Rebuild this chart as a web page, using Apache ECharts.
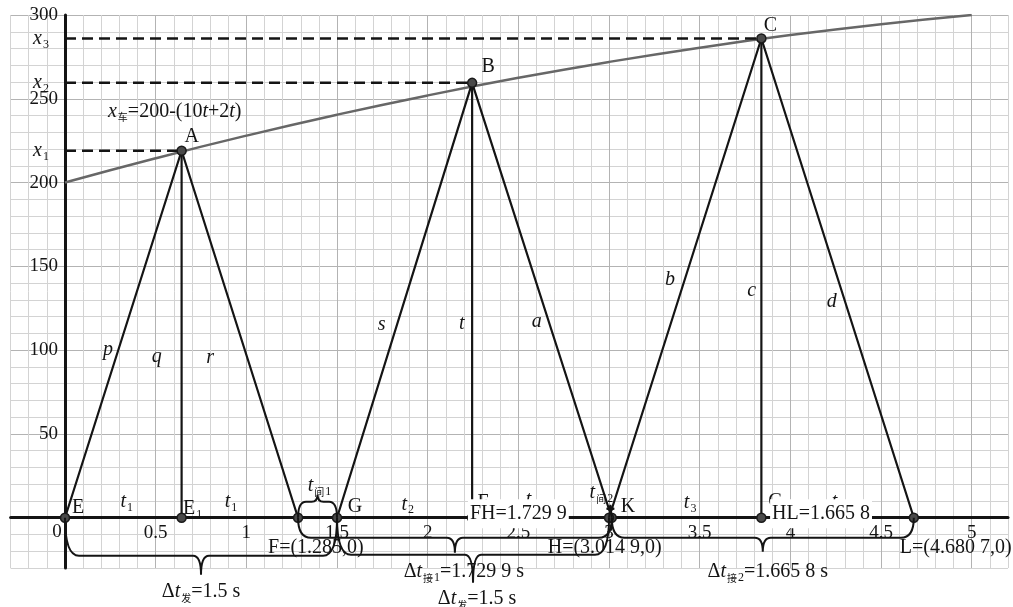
<!DOCTYPE html>
<html>
<head>
<meta charset="utf-8">
<script src="https://cdn.jsdelivr.net/npm/echarts@6/dist/echarts.min.js"></script>
<style>
  html, body { margin: 0; padding: 0; background: #fff; }
  #chart { width: 1013px; height: 607px; }
</style>
</head>
<body>
<div id="chart"></div>
<script>
// Position–time diagram: pulses sent from the origin, reflected by a receding car.

// Car position curve (t in s, x in m)
const curveT = [0, 0.5, 1, 1.5, 2, 2.5, 3, 3.5, 4, 4.5, 5];
const curveX = [200, 214.5, 228, 240.5, 252, 262.5, 272, 280.5, 288, 294.5, 300];

// Pulse send instants
const sendNames = ['E', 'G', 'K'];
const sendTimes = [0, 1.5, 3.0];

// Reflection points on the car curve
const peakNames = ['A', 'B', 'C'];
const peakTimes = [0.643, 2.245, 3.84];
const peakDist = [219, 259.5, 286];

// Feet of the verticals dropped from the reflection points
const footNames = ['E', 'F', 'G'];
const footSubs = ['1', '', ''];

// Echo arrival instants
const returnNames = ['F', 'H', 'L'];
const returnTimes = [1.285, 3.0149, 4.6807];

// Segment names of each pulse triangle
const segNames = [['p', 'q', 'r'], ['s', 't', 'a'], ['b', 'c', 'd']];

// Axis tick labels
const xTicks = [0.5, 1, 1.5, 2, 2.5, 3, 3.5, 4, 4.5, 5];
const yTicks = [50, 100, 150, 200, 250, 300];

// ---------- styling ----------
const FONT = '"Liberation Serif","Times New Roman",serif';
const CJK = '"Noto Sans CJK SC",sans-serif';
const INK = '#141414';
const MINOR = '#d3d3d3';
const MAJOR = '#b3b3b3';

const zr = {
  n: { fontFamily: FONT, fontSize: 20, fill: INK },
  a: { fontFamily: FONT, fontSize: 19, fill: INK },
  i: { fontFamily: FONT, fontSize: 20, fontStyle: 'italic', fill: INK },
  s: { fontFamily: FONT, fontSize: 12, fill: INK, padding: [12, 0, 0, 1] },
  c: { fontFamily: CJK, fontSize: 10, fill: INK, padding: [12, 0, 0, 1] }
};
const N = s => `{n|${s}}`;
const A = s => `{a|${s}}`;
const I = s => `{i|${s}}`;
const S = s => (s ? `{s|${s}}` : '');
const C = s => `{c|${s}}`;

// 1.7299 -> "1.729 9"
function num(v) {
  const s = String(+v.toFixed(4));
  const parts = s.split('.');
  if (parts[1] && parts[1].length > 3) return parts[0] + '.' + parts[1].slice(0, 3) + ' ' + parts[1].slice(3);
  return s;
}

// ---------- label placement (data anchor + pixel nudge) ----------
const segPos = [
  [[0.237, 100], [0.506, 96], [0.80, 95.5]],
  [[1.746, 115], [2.188, 116], [2.601, 117]],
  [[3.336, 142], [3.787, 135.5], [4.228, 129]]
];
const legPos = [[[0.34, 9.5], [0.915, 9.5]], [[1.89, 8], [2.575, 10.5]], [[3.447, 9], [4.263, 9.5]]];
const peakOff = [[10, -14], [16, -16], [9, -13]];
const sendOff = [[13, -10], [18, -11], [19, -11]];
const footOff = [[11, -9], [11, -15], [14, -16]];
const returnOff = [[-30, 30], [-64, 30], [-14, 30]];

const notes = [];
// axis tick labels sit on the zero lines
xTicks.forEach(t => notes.push({ t, y: 0, dy: 15, text: A(String(t)) }));
yTicks.forEach(v => notes.push({ t: 0, y: v, dx: -7, align: 'right', text: A(String(v)) }));
notes.push({ t: 0, y: 0, dx: -8, dy: 14, text: A('0') });
notes.push({ t: 0.237, y: 242.3, text: I('x') + C('车') + N('=200-(10') + I('t') + N('+2') + I('t') + N(')'), align: 'left' });
for (let k = 0; k < 3; k++) {
  segNames[k].forEach((nm, j) => notes.push({ t: segPos[k][j][0], y: segPos[k][j][1], text: I(nm) }));
  legPos[k].forEach(p => notes.push({ t: p[0], y: p[1], text: I('t') + S(String(k + 1)) }));
  notes.push({ t: 0, y: peakDist[k], dx: -24, dy: 0, text: I('x') + S(String(k + 1)) });
  notes.push({ t: peakTimes[k], y: peakDist[k], dx: peakOff[k][0], dy: peakOff[k][1], text: N(peakNames[k]) });
  notes.push({ t: sendTimes[k], y: 0, dx: sendOff[k][0], dy: sendOff[k][1], text: N(sendNames[k]) });
  notes.push({ t: peakTimes[k], y: 0, dx: footOff[k][0], dy: footOff[k][1], text: N(footNames[k]) + S(footSubs[k]) });
  notes.push({ t: returnTimes[k], y: 0, dx: returnOff[k][0], dy: returnOff[k][1], align: 'left',
    text: N(returnNames[k] + '=(' + num(returnTimes[k]) + ',0)') });
}
// boxed length readouts, drawn above everything else
const boxes = [
  { t: 2.222, y: 2.4, text: N('FH=' + num(returnTimes[1] - returnTimes[0])) },
  { t: 3.888, y: 2.4, text: N('HL=' + num(returnTimes[2] - returnTimes[1])) }
];
boxes.forEach(b => { b.box = true; b.align = 'left'; });

// ---------- braces ----------
const braces = [
  { from: sendTimes[0], to: sendTimes[1], text: N('Δ') + I('t') + C('发') + N('=' + num(sendTimes[1] - sendTimes[0]) + ' s') },
  { from: returnTimes[0], to: returnTimes[1], text: N('Δ') + I('t') + C('接') + S('1') + N('=' + num(returnTimes[1] - returnTimes[0]) + ' s') },
  { from: sendTimes[1], to: sendTimes[2], text: N('Δ') + I('t') + C('发') + N('=' + num(sendTimes[2] - sendTimes[1]) + ' s') },
  { from: returnTimes[1], to: returnTimes[2], text: N('Δ') + I('t') + C('接') + S('2') + N('=' + num(returnTimes[2] - returnTimes[1]) + ' s') },
  { from: returnTimes[0], to: sendTimes[1], text: I('t') + C('间') + S('1') },
  { from: sendTimes[2], to: returnTimes[1], text: I('t') + C('间') + S('2') }
];
const braceLook = [
  { dir: 1, depth: 38, tip: 57, r: 14, r2: 8, lx: 0, ly: 17 },
  { dir: 1, depth: 20, tip: 35, r: 13, r2: 8, lx: 9, ly: 19 },
  { dir: 1, depth: 37, tip: 65, r: 14, r2: 8, lx: 4, ly: 16 },
  { dir: 1, depth: 20, tip: 34, r: 13, r2: 8, lx: 5, ly: 20 },
  { dir: -1, depth: 16, tip: 23, r: 8, r2: 6, lx: 2, ly: 9 },
  { dir: -1, depth: 9, tip: 13, r: 5, r2: 4, lx: -9, ly: 12 }
];

function braceItem(params, api) {
  const b = braces[params.dataIndex];
  const st = braceLook[params.dataIndex];
  const a = api.coord([b.from, 0]);
  const c = api.coord([b.to, 0]);
  const x0 = a[0], x1 = c[0], y0 = a[1];
  const yh = y0 + st.dir * st.depth;
  const yt = y0 + st.dir * st.tip;
  const xm = (x0 + x1) / 2;
  const d = `M${x0} ${y0} Q${x0} ${yh} ${x0 + st.r} ${yh} L${xm - st.r2} ${yh} Q${xm} ${yh} ${xm} ${yt} ` +
            `Q${xm} ${yh} ${xm + st.r2} ${yh} L${x1 - st.r} ${yh} Q${x1} ${yh} ${x1} ${y0}`;
  return {
    type: 'group',
    children: [
      { type: 'path', shape: { pathData: d }, style: { stroke: INK, fill: null, lineWidth: 2 } },
      { type: 'text', x: xm + st.lx, y: yt + st.dir * st.ly,
        style: { text: b.text, rich: zr, align: 'center', verticalAlign: 'middle' } }
    ]
  };
}

function noteRenderer(list) {
  return function (params, api) {
    const L = list[params.dataIndex];
    const p = api.coord([L.t, L.y]);
    const style = { text: L.text, rich: zr, align: L.align || 'center', verticalAlign: 'middle' };
    if (L.box) { style.backgroundColor = '#fff'; style.padding = [5, 2, 4, 2]; }
    return { type: 'text', x: p[0] + (L.dx || 0), y: p[1] + (L.dy || 0), style };
  };
}

// ---------- series ----------
const series = [];
series.push({
  type: 'line', smooth: true, symbol: 'none', z: 2,
  data: curveT.map((t, i) => [t, curveX[i]]),
  lineStyle: { color: '#676767', width: 2.5 }
});
for (let k = 0; k < 3; k++) {
  series.push({
    type: 'line', symbol: 'none', z: 3,
    data: [[0, peakDist[k]], [peakTimes[k], peakDist[k]]],
    lineStyle: { color: INK, width: 2.5, type: [11, 6] }
  });
  series.push({
    type: 'line', symbol: 'none', z: 3,
    data: [[sendTimes[k], 0], [peakTimes[k], peakDist[k]], [returnTimes[k], 0]],
    lineStyle: { color: INK, width: 2.2 }
  });
  series.push({
    type: 'line', symbol: 'none', z: 3,
    data: [[peakTimes[k], peakDist[k]], [peakTimes[k], 0]],
    lineStyle: { color: INK, width: 2.2 }
  });
}
const markers = [];
for (let k = 0; k < 3; k++) {
  markers.push([sendTimes[k], 0], [peakTimes[k], peakDist[k]], [peakTimes[k], 0], [returnTimes[k], 0]);
}
series.push({
  type: 'scatter', z: 4, symbolSize: 9, data: markers,
  itemStyle: { color: '#4a4a4a', borderColor: '#1a1a1a', borderWidth: 1.5, opacity: 1 }
});
series.push({
  type: 'custom', z: 5, clip: false, renderItem: braceItem,
  data: braces.map(b => [b.from, b.to])
});
series.push({
  type: 'custom', z: 6, clip: false, renderItem: noteRenderer(notes),
  data: notes.map(n => [n.t, n.y])
});
series.push({
  type: 'custom', z: 8, clip: false, renderItem: noteRenderer(boxes),
  data: boxes.map(n => [n.t, n.y])
});

const option = {
  animation: false,
  backgroundColor: '#fff',
  grid: { left: 10.6, right: 5, top: 15, bottom: 39, containLabel: false, outerBoundsMode: 'none' },
  xAxis: {
    type: 'value', min: -0.3, max: 5.2, interval: 0.1,
    axisLine: { onZero: true, lineStyle: { color: INK, width: 3 } },
    axisTick: { show: false },
    axisLabel: { show: false },
    splitLine: { show: true, lineStyle: { color: [MINOR, MINOR, MINOR, MAJOR, MINOR], width: 1 } }
  },
  yAxis: {
    type: 'value', min: -30, max: 300, interval: 10,
    axisLine: { onZero: true, lineStyle: { color: INK, width: 3 } },
    axisTick: { show: false },
    axisLabel: { show: false },
    splitLine: { show: true, lineStyle: { color: [MINOR, MINOR, MINOR, MAJOR, MINOR], width: 1 } }
  },
  series
};

const chart = echarts.init(document.getElementById('chart'));
chart.setOption(option);
</script>
</body>
</html>
